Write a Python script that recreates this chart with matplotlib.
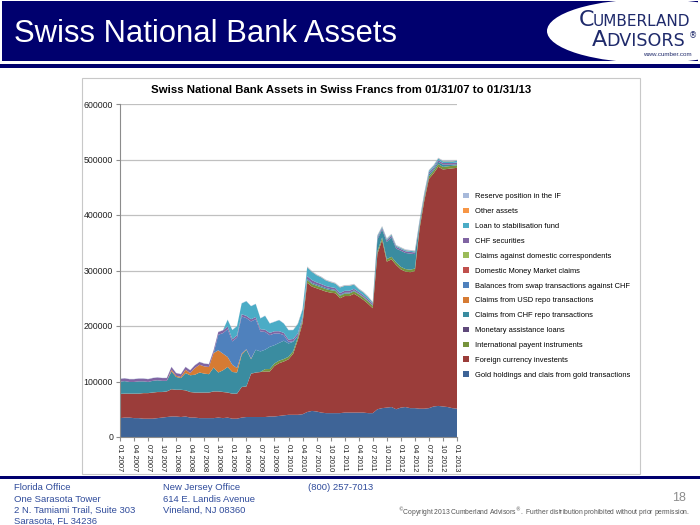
import matplotlib
matplotlib.use('Agg')
import matplotlib.pyplot as plt
from matplotlib.patches import Rectangle, Ellipse
from matplotlib.ticker import FuncFormatter

# monthly data, Jan 2007 .. Jan 2013, CHF millions
months = list(range(73))
tick_pos = list(range(0, 73, 3))
tick_labels = ['01 2007', '04 2007', '07 2007', '10 2007',
               '01 2008', '04 2008', '07 2008', '10 2008',
               '01 2009', '04 2009', '07 2009', '10 2009',
               '01 2010', '04 2010', '07 2010', '10 2010',
               '01 2011', '04 2011', '07 2011', '10 2011',
               '01 2012', '04 2012', '07 2012', '10 2012',
               '01 2013']

gold = [34000, 35000, 35000, 34000, 34000, 33000, 33000, 33000, 34000, 35000, 36000, 37000,
        37000, 36000, 37000, 35000, 35000, 34000, 34000, 34000, 34000, 35000, 34000, 35000,
        33000, 33000, 35000, 36000, 36000, 36000, 36000, 36000, 37000, 37000, 38000, 39000,
        40000, 40000, 40000, 41000, 45000, 47000, 46000, 44000, 43000, 43000, 43000, 43000,
        44000, 44000, 44000, 44000, 44000, 43000, 43000, 50000, 52000, 53000, 54000, 50000,
        53000, 54000, 52000, 52000, 51000, 51000, 52000, 55000, 56000, 55000, 54000, 52000, 51000]

foreign = [43500, 43000, 43000, 44000, 44000, 46000, 46000, 47000, 47000, 46000, 46000, 49000,
           48000, 49000, 47000, 46000, 45000, 46000, 46000, 46000, 48000, 47000, 47000, 45000,
           45000, 45000, 55000, 55000, 78000, 80000, 81000, 82000, 81000, 91000, 95000, 97000,
           100000, 110000, 135000, 164000, 233000, 224000, 222000, 221000, 219000, 217000, 216000, 207000,
           210000, 210000, 214000, 209000, 203000, 197000, 189000, 280000, 303000, 263000, 266000, 260000,
           249000, 244000, 245000, 247000, 324000, 374000, 413000, 420000, 431000, 427000, 429000, 432000, 434000]

intl_payment = [200, 200, 200, 200, 200, 200, 200, 200, 200, 200, 200, 200,
                200, 200, 200, 200, 200, 200, 200, 200, 200, 200, 200, 200,
                200, 200, 200, 200, 200, 200, 200, 4300, 4500, 4500, 4600, 4500,
                4500, 4600, 4600, 4700, 4800, 4700, 4600, 4600, 4500, 4500, 4500, 4400,
                4400, 4500, 4500, 4400, 4400, 4300, 4300, 4400, 4600, 4600, 4700, 4600,
                4600, 4600, 4500, 4500, 4500, 4600, 4700, 4700, 4800, 4700, 4700, 4600, 4600]

monetary_loans = [0] * 73

chf_repo = [22000, 22500, 21000, 21000, 22000, 21000, 20000, 21000, 21000, 20000, 19000, 32000,
            23000, 21000, 31000, 30000, 32000, 36000, 34000, 33000, 43000, 34000, 39000, 46000,
            39000, 38000, 58000, 66000, 26000, 41000, 37000, 35000, 40000, 33000, 32000, 33000,
            24000, 17000, 3000, 2000, 2000, 2000, 2000, 2000, 2000, 2000, 1500, 1500,
            1500, 1500, 1500, 1000, 1000, 1000, 1000, 22000, 14000, 31000, 35000, 25000,
            29000, 29000, 29000, 26000, 4000, 3000, 4000, 3000, 4000, 4000, 3000, 2000, 2000]

usd_repo = [0, 0, 0, 0, 0, 0, 0, 0, 0, 0, 0, 3000,
            2000, 2000, 6000, 4000, 12000, 14000, 13000, 13000, 26000, 40000, 30000, 18000,
            13000, 8000, 2000, 1000, 1000, 0, 0, 0, 0, 0, 0, 0,
            0, 0, 0, 0, 0, 0, 0, 0, 0, 0, 0, 0,
            0, 0, 0, 0, 0, 0, 0, 0, 0, 0, 0, 0,
            0, 0, 0, 0, 0, 0, 0, 0, 0, 0, 0, 0, 0]

swap_balances = [0, 0, 0, 0, 0, 0, 0, 0, 0, 0, 0, 0,
                 0, 0, 0, 0, 0, 0, 0, 0, 0, 28000, 37000, 50000,
                 42000, 55000, 67000, 56000, 67000, 55000, 36000, 32000, 21000, 21000, 17000, 10000,
                 3000, 1000, 0, 0, 0, 0, 0, 0, 0, 0, 0, 0,
                 0, 0, 0, 0, 0, 0, 0, 0, 0, 0, 0, 0,
                 0, 0, 0, 0, 0, 0, 0, 0, 0, 0, 0, 0, 0]

domestic_mm = [0] * 73
domestic_corr = [0] * 73

chf_securities = [5000, 5000, 5000, 5000, 5000, 5000, 5000, 5000, 5000, 5000, 5000, 5000,
                  5000, 5000, 5000, 5000, 5000, 5000, 5000, 5000, 5000, 5000, 5000, 5000,
                  4000, 4000, 4000, 4000, 4000, 4000, 4000, 4000, 4000, 4000, 4000, 4000,
                  4000, 4000, 4000, 4000, 5000, 5000, 4000, 4000, 3500, 3500, 3500, 3500,
                  3500, 3500, 3000, 3000, 3000, 3000, 3000, 3000, 3000, 3000, 3000, 3000,
                  3000, 3000, 3000, 3000, 3000, 3000, 3000, 3000, 3000, 3000, 3000, 3000, 3000]

stab_fund = [0, 0, 0, 0, 0, 0, 0, 0, 0, 0, 0, 0,
             0, 0, 0, 0, 0, 0, 0, 0, 0, 0, 0, 12000,
             16500, 16500, 19500, 26500, 23500, 23500, 19500, 25000, 17000, 17000, 20000, 17000,
             17000, 16000, 17000, 14000, 16000, 15000, 13000, 12000, 10000, 9000, 8000, 10000,
             9000, 9000, 7500, 5000, 5000, 4000, 2000, 3000, 2000, 2000, 2000, 2000,
             2000, 2000, 2000, 2000, 3000, 3000, 3000, 3000, 3000, 3000, 3000, 3000, 3000]

other_assets = [0, 0, 0, 0, 0, 0, 0, 0, 0, 0, 0, 0,
                0, 0, 0, 0, 0, 0, 0, 0, 0, 0, 0, 0,
                0, 0, 0, 0, 0, 0, 0, 0, 0, 0, 0, 0,
                0, 0, 500, 500, 500, 500, 500, 500, 500, 500, 500, 500,
                500, 500, 500, 500, 500, 500, 500, 500, 500, 500, 500, 500,
                500, 500, 500, 500, 500, 500, 500, 500, 500, 500, 500, 500, 500]

reserve_imf = [500, 500, 500, 500, 500, 500, 500, 500, 500, 500, 500, 500,
               500, 500, 500, 500, 500, 500, 500, 500, 500, 500, 500, 500,
               500, 500, 500, 500, 500, 500, 500, 500, 500, 500, 500, 500,
               500, 500, 1000, 1000, 1000, 1000, 1000, 1000, 1000, 1000, 1000, 1000,
               1000, 1000, 1000, 1000, 1000, 1000, 1000, 1000, 1000, 1000, 1000, 1000,
               1000, 1000, 1000, 1000, 1000, 1000, 1000, 1000, 1000, 1000, 1000, 1000, 1000]

series = [gold, foreign, intl_payment, monetary_loans, chf_repo, usd_repo, swap_balances,
          domestic_mm, domestic_corr, chf_securities, stab_fund, other_assets, reserve_imf]
names = ['Gold holdings and clais from gold transactions',
         'Foreign currency investents',
         'International payent instruments',
         'Monetary assistance loans',
         'Claims from CHF repo transactions',
         'Claims from USD repo transactions',
         'Balances from swap transactions against CHF',
         'Domestic Money Market claims',
         'Claims against domestic correspondents',
         'CHF securities',
         'Loan to stabilisation fund',
         'Other assets',
         'Reserve position in the IF']
colors = ['#3E6497', '#9B3D3A', '#77933C', '#5F497A', '#3A8CA0', '#D67B33', '#4F81BD',
          '#C0504D', '#9BBB59', '#8064A2', '#4BACC6', '#F79646', '#A7B9DA']

NAVY = '#00006E'
FOOT = '#2F4B9B'
FONT = ['Liberation Sans', 'DejaVu Sans']
W, H = 700, 525


def fx(px):
    return px / W


def fy(py):
    return 1 - py / H


fig = plt.figure(figsize=(7, 5.25), dpi=100)

# header band with logo
fig.patches.append(Rectangle((fx(2), fy(61)), 696 / W, 60 / H, transform=fig.transFigure,
                             facecolor=NAVY, edgecolor='none'))
fig.patches.append(Ellipse((fx(652), fy(31)), 210 / W, 64 / H, transform=fig.transFigure,
                           facecolor='white', edgecolor='none'))
fig.patches.append(Rectangle((0, fy(68)), 1, 4 / H, transform=fig.transFigure,
                             facecolor=NAVY, edgecolor='none'))
fig.text(fx(14), fy(34), 'Swiss National Bank Assets', color='white', fontsize=22.3,
         va='center', family=FONT)

LOGO = '#1F2A6B'
fig.text(fx(579), fy(20), 'C', color=LOGO, fontsize=16, va='center', family='DejaVu Sans')
fig.text(fx(593), fy(21), 'UMBERLAND', color=LOGO, fontsize=11, va='center', family='DejaVu Sans')
fig.text(fx(592), fy(40), 'A', color=LOGO, fontsize=16, va='center', family='DejaVu Sans')
fig.text(fx(606), fy(41), 'DVISORS', color=LOGO, fontsize=12.6, va='center', family='DejaVu Sans')
fig.text(fx(689), fy(36), '®', color=LOGO, fontsize=6, va='center', family='DejaVu Sans')
fig.text(fx(692), fy(54), 'www.cumber.com', color=LOGO, fontsize=4.5, va='center', ha='right',
         family=FONT)

# chart frame and title
fig.patches.append(Rectangle((fx(82), fy(474)), (640 - 82) / W, (474 - 78) / H,
                             transform=fig.transFigure, facecolor='none',
                             edgecolor='#C8C8C8', lw=0.8))
fig.text(fx(341), fy(90), 'Swiss National Bank Assets in Swiss Francs from 01/31/07 to 01/31/13',
         ha='center', va='center', fontsize=8.2, weight='bold', family=FONT)

ax = fig.add_axes([fx(120), fy(437), (457 - 120) / W, (437 - 104) / H])
ax.stackplot(months, *series, colors=colors, labels=names, lw=0)
ax.set_xlim(0, 72)
ax.set_ylim(0, 600000)
ax.set_yticks(range(0, 600001, 100000))
ax.yaxis.set_major_formatter(FuncFormatter(lambda v, p: '%d' % v))
ax.set_xticks(tick_pos)
ax.set_xticklabels(tick_labels, rotation=-90, family=FONT, fontsize=5.5)
for lab in ax.get_yticklabels():
    lab.set_family(FONT)
    lab.set_fontsize(6.3)
ax.grid(axis='y', color='#C0C0C0', lw=0.9)
ax.set_axisbelow(True)
for s in ['top', 'right']:
    ax.spines[s].set_visible(False)
for s in ['left', 'bottom']:
    ax.spines[s].set_color('#8C8C8C')
    ax.spines[s].set_linewidth(0.8)
ax.tick_params(axis='both', length=3, color='#8C8C8C', width=0.8, pad=2, labelcolor='#222222')

handles, labels = ax.get_legend_handles_labels()
fig.legend(handles[::-1], labels[::-1], loc='upper left', bbox_to_anchor=(fx(463), fy(193)),
           frameon=False, prop={'family': FONT, 'size': 5.4}, handlelength=0.75,
           handleheight=0.75, handletextpad=0.9, labelspacing=1.0, borderpad=0,
           borderaxespad=0)

# footer
fig.patches.append(Rectangle((0, fy(479)), 1, 3 / H, transform=fig.transFigure,
                             facecolor=NAVY, edgecolor='none'))
foot = [(14, 487, 'Florida Office'), (14, 499, 'One Sarasota Tower'),
        (14, 510, '2 N. Tamiami Trail, Suite 303'), (14, 521, 'Sarasota, FL 34236'),
        (163, 487, 'New Jersey Office'), (163, 499, '614 E. Landis Avenue'),
        (163, 510, 'Vineland, NJ 08360'), (308, 487, '(800) 257-7013')]
for x, y, t in foot:
    fig.text(fx(x), fy(y), t, color=FOOT, fontsize=6.8, va='center', family=FONT)
fig.text(fx(679), fy(498), '18', color='#8C8C8C', fontsize=9, va='center', ha='center',
         family=FONT)
fig.text(fx(690), fy(512), r'$^{\copyright}$Copyright 2013 Cumberland Advisors$^{\circledR}$.  '
         'Further distribution prohibited without prior permission.',
         color='#555555', fontsize=4.9, va='center', ha='right', family=FONT)

fig.savefig('out.png', dpi=100)
